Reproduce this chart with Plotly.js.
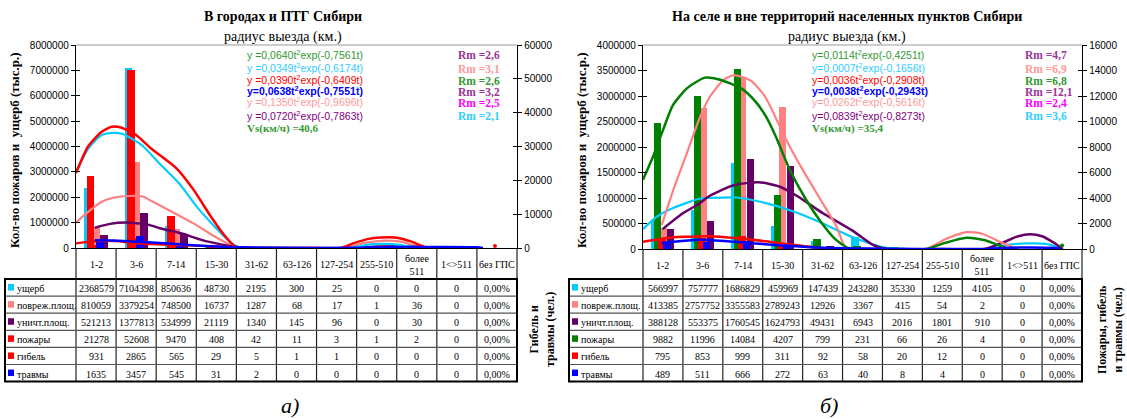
<!DOCTYPE html>
<html><head><meta charset="utf-8">
<script src="https://cdn.plot.ly/plotly-3.0.1.min.js"></script>
<style>body{margin:0;background:#fff}#c{width:1127px;height:419px}</style>
</head><body><div id="c"></div>
<script>
// ---------- DATA ----------
const categories = ['1-2','3-6','7-14','15-30','31-62','63-126','127-254','255-510','более<br>511','1&lt;&gt;511','без ГПС'];
const rowNamesA = ['ущерб','повреж.площ.','уничт.площ.','пожары','гибель','травмы'];
const rowNamesB = ['ущерб','повреж.площ.','уничт.площ.','пожары','гибель','травмы'];
const lastColText = '0,00%';

// panel a) cities
const A_damage  = [2368579,7104398,850636,48730,2195,300,25,0,0,0,0];
const A_damArea = [810059,3379254,748500,16737,1287,68,17,1,36,0,0];
const A_desArea = [521213,1377813,534999,21119,1340,145,96,0,30,0,0];
const A_fires   = [21278,52608,9470,408,42,11,3,1,2,0,0];
const A_deaths  = [931,2865,565,29,5,1,1,0,0,0,0];
const A_injured = [1635,3457,545,31,2,0,0,0,0,0,0];

// panel б) rural
const B_damage  = [566997,757777,1686829,459969,147439,243280,35330,1259,4105,0,0];
const B_damArea = [413385,2757752,3355583,2789243,12926,3367,415,54,2,0,0];
const B_desArea = [388128,553375,1760545,1624793,49431,6943,2016,1801,910,0,0];
const B_fires   = [9882,11996,14084,4207,799,231,66,26,4,0,0];
const B_deaths  = [795,853,999,311,92,58,20,12,0,0,0];
const B_injured = [489,511,666,272,63,40,8,4,0,0,0];

// fitted curves (x in category units, values in millions on left axis)
const A_redFit_t  = [-0.5,-0.2,0.14,0.39,0.64,1.0,1.35,1.6,2.0,2.43,2.88,3.2,3.45,3.7,4.5,5.5,6.1,6.45,6.8,7.1,7.45,7.85,8.2,8.5,9.0];
const A_redFit_v  = [2.95,4.0,4.58,4.78,4.74,4.45,3.95,3.65,3.15,2.3,1.2,0.5,0.08,0,0,0,0,0.2,0.36,0.41,0.41,0.26,0.04,0,0];
const A_cyanFit_t = [-0.5,-0.19,0.14,0.43,0.67,1.01,1.18,1.54,2.07,2.51,2.96,3.33,3.6,4.5,5.5,6.3,6.9,7.4,8.0,8.5];
const A_cyanFit_v = [3.0,3.93,4.45,4.54,4.49,4.19,4.0,3.4,2.55,1.63,0.84,0.25,0.02,0,0,0,0.15,0.15,0.02,0];
const A_salFit_t  = [-0.5,-0.19,0.14,0.43,0.84,1.18,1.36,1.89,2.43,2.96,3.41,3.7,4.5,5.5,6.2,6.7,7.2,7.6,8.1,8.4];
const A_salFit_v  = [1.0,1.43,1.82,1.98,2.05,2.02,1.87,1.43,0.97,0.45,0.08,0,0,0,0,0.2,0.29,0.25,0.03,0];
const A_purFit_t  = [-0.03,0.35,0.76,1.0,1.3,1.59,2.12,2.65,3.18,3.6,4.5,5.5,6.4,7.0,7.6,8.2,8.6];
const A_purFit_v  = [0.8,0.95,1.0,0.98,0.92,0.78,0.58,0.31,0.12,0.01,0,0,0,0.06,0.07,0.03,0];
const A_bluFit_t  = [-0.03,0.45,0.85,1.4,2.0,2.5,3.0,3.5,4.5,6.0,7.0,7.5,8.5,9.5,9.65];
const A_bluFit_v  = [0.31,0.3,0.26,0.22,0.16,0.1,0.06,0.03,0.01,0,0.02,0.04,0.04,0.03,0];
const A_red2Fit_t = [-0.5,0.02,0.5,1.0,1.7,2.5,3.4,4.0];
const A_red2Fit_v = [0.18,0.27,0.27,0.18,0.13,0.09,0.04,0];
const A_dot_t = [9.95], A_dot_v = [0.08];

const B_grnFit_t  = [-0.5,-0.25,0.0,0.25,0.6,1.05,1.43,1.96,2.31,2.58,2.83,3.18,3.56,3.94,4.31,4.64,5.0,6.0,6.6,7.07,7.6,8.07,8.6,8.9];
const B_grnFit_v  = [1.36,1.81,2.33,2.82,3.15,3.36,3.32,3.15,2.9,2.6,2.2,1.55,1.0,0.55,0.2,0.02,0,0,0,0.12,0.22,0.17,0.02,0];
const B_salFit_t  = [-0.03,0.26,0.6,0.93,1.18,1.5,1.77,2.2,2.55,2.9,3.15,3.46,3.9,4.35,4.56,4.8,6.0,6.6,7.1,7.6,8.0,8.5,8.9];
const B_salFit_v  = [0.47,1.16,1.88,2.59,2.99,3.3,3.41,3.3,3.0,2.45,2.05,1.61,1.03,0.44,0.05,0,0,0,0.2,0.33,0.3,0.12,0];
const B_purFit_t  = [-0.01,0.5,0.93,1.14,1.77,2.4,2.93,3.38,4.01,4.73,5.26,5.6,7.0,8.05,8.5,8.9,9.2,9.5,9.8,10.02];
const B_purFit_v  = [0.39,0.7,0.9,1.03,1.25,1.31,1.22,1.03,0.7,0.37,0.08,0,0,0,0.12,0.25,0.29,0.25,0.12,0];
const B_cyanFit_t = [-0.5,-0.16,0.24,0.93,1.14,1.86,2.58,3.29,4.01,4.73,5.44,5.8,7.0,8.1,8.6,9.1,9.6,10.0];
const B_cyanFit_v = [0.39,0.63,0.8,0.99,1.0,1.01,0.9,0.73,0.5,0.24,0.05,0,0,0,0.08,0.11,0.1,0];
const B_redFit_t  = [-0.5,0.25,0.6,1.15,1.87,2.58,3.29,4.0,4.5];
const B_redFit_v  = [0.14,0.23,0.24,0.25,0.21,0.15,0.08,0.02,0];
const B_bluFit_t  = [-0.03,0.54,0.98,1.8,2.8,3.9,5.0,6.5,8.0,8.5,9.2,9.8,10.0];
const B_bluFit_v  = [0.12,0.16,0.18,0.14,0.08,0.03,0.01,0,0,0.02,0.03,0.02,0];
const B_dot_t = [10.0], B_dot_v = [0.07];

const A_eq = ['y =0,0640t<sup>2</sup>exp(-0,7561t)','y =0,0349t<sup>2</sup>exp(-0,6174t)','y =0,0390t<sup>2</sup>exp(-0,6409t)','<b>y=0,0638t<sup>2</sup>exp(-0,7551t)</b>','y =0,1350t<sup>2</sup>exp(-0,9696t)','y =0,0720t<sup>2</sup>exp(-0,7863t)'];
const A_rm = ['Rm =2,6','Rm =3,1','Rm =2,6','Rm =3,2','Rm =2,5','Rm =2,1'];
const A_vs = 'Vs(км/ч) =40,6';
const B_eq = ['y=0,0114t<sup>2</sup>exp(-0,4251t)','y=0,0007t<sup>2</sup>exp(-0,1656t)','y=0,0036t<sup>2</sup>exp(-0,2908t)','<b>y=0,0038t<sup>2</sup>exp(-0,2943t)</b>','y=0,0262t<sup>2</sup>exp(-0,5616t)','y=0,0839t<sup>2</sup>exp(-0,8273t)'];
const B_rm = ['Rm =4,7','Rm =6,9','Rm =6,8','Rm =12,1','Rm =2,4','Rm =3,6'];
const B_vs = 'Vs(км/ч) =35,4';

// ---------- STYLE ----------
const W = 1127, H = 419;
const px = x => x / W, py = y => 1 - y / H;
const SERIF = 'Liberation Serif, Times New Roman, serif';
const SANS = 'Liberation Sans, Arial, sans-serif';
const C = {cyan:'#00ccff', sal:'#ff8080', pur:'#660066', red:'#ff0000', blue:'#0000ff', green:'#008000'};
const eqColors = ['#339933','#33ccff','#ff0000','#0000ff','#ff9999','#800080'];
const rmColors = ['#993399','#ff9999','#339933','#993399','#ff00ff','#33ccff'];
const idx = categories.map((_, i) => i);

const traces = [], shapes = [], annotations = [];
const text = (x, y, t, o = {}) => annotations.push({xref:'paper', yref:'paper', x:px(x), y:py(y), text:t, showarrow:false,
  xanchor:o.xa || 'center', yanchor:'middle', textangle:o.angle || 0,
  font:{family:o.fam || SERIF, size:o.size || 10, color:o.color || '#000'}});
const line = (x0, y0, x1, y1, w, c) => shapes.push({type:'line', xref:'paper', yref:'paper', x0:px(x0), y0:py(y0), x1:px(x1), y1:py(y1), line:{width:w, color:c}});

function panel(p) {
  const bar = (y, ya, off, color) => traces.push({type:'bar', x:idx, y, xaxis:p.xa, yaxis:ya, offset:off, width:p.bw,
    marker:{color, line:{width:0}}, hoverinfo:'skip'});
  bar(p.prim[0], p.y1, -0.29, C.cyan);
  bar(p.prim[1], p.y1, -0.097, C.sal);
  bar(p.prim[2], p.y1, 0.097, C.pur);
  bar(p.sec[0], p.y2, -0.23, p.secCol[0]);
  bar(p.sec[1], p.y2, -0.115, p.secCol[1]);
  bar(p.sec[2], p.y2, 0.0, p.secCol[2]);
  p.curves.forEach(c => traces.push({type:'scatter', mode:c.mode || 'lines', x:c.t, y:c.v, xaxis:p.xa, yaxis:p.y3,
    line:{color:c.color, width:c.w || 2.5, shape:'spline', smoothing:0.6}, marker:{color:c.color, size:4}, hoverinfo:'skip'}));
  p.tickAxes.forEach(ya => traces.push({type:'scatter', mode:'markers', x:[null], y:[null], xaxis:p.xa, yaxis:ya, hoverinfo:'skip'}));

  // plot top border
  line(p.x0, p.top, p.x1, p.top, 1, '#999');
  // table
  const cw = (p.x1 - p.x0) / 11, tTop = 279, rh = 17.1, tBot = tTop + 6 * rh;
  for (let i = 0; i <= 11; i++) line(p.x0 + i * cw, p.bot, p.x0 + i * cw, tBot, 1.2, '#222');
  for (let k = 1; k < 6; k++) line(p.tl, tTop + k * rh, p.x1, tTop + k * rh, 1.2, '#555');
  shapes.push({type:'rect', xref:'paper', yref:'paper', x0:px(p.tl), x1:px(p.x1), y0:py(tTop), y1:py(tBot), line:{width:2, color:'#000'}});
  categories.forEach((c, i) => text(p.x0 + (i + 0.5) * cw, (p.bot + tTop) / 2 + 1, c, {size:10}));
  p.rows.forEach((r, k) => {
    const yc = tTop + (k + 0.5) * rh;
    shapes.push({type:'rect', xref:'paper', yref:'paper', x0:px(p.tl + 3), x1:px(p.tl + 9), y0:py(yc - 3.5), y1:py(yc + 3), fillcolor:p.sq[k], line:{width:0}});
    text(p.tl + 10, yc + 1, p.names[k], {xa:'left', size:10});
    r.forEach((v, i) => text(p.x0 + (i + 0.5) * cw, yc + 1, i === 10 ? lastColText : String(v), {size:10}));
  });
  // titles
  text(p.cx, 17, '<b>' + p.title + '</b>', {size:14});
  text(p.cx, 37, 'радиус выезда (км.)', {size:14});
  text(p.ytx, 150, '<b>Кол-во пожаров и  ущерб (тыс.р.)</b>', {angle:-90, size:13});
  text(p.y2tx, 330, '<b>' + p.y2title + '</b>', {angle:-90, size:12});
  text(p.lx, 405, '<i>' + p.letter + '</i>', {size:22});
  // equations
  const rowsY = [54, 67.5, 80, 90.5, 102, 115.5];
  p.eq.forEach((e, k) => text(p.eqx, rowsY[k], e, {xa:'left', fam:SANS, size:10.5, color:eqColors[k]}));
  text(p.eqx, 128.5, '<b>' + p.vs + '</b>', {xa:'left', size:11, color:'#339933'});
  p.rm.forEach((e, k) => text(p.rmx, rowsY[k] + 1, '<b>' + e + '</b>', {xa:'left', size:11.5, color:rmColors[k]}));
}

panel({xa:'x', y1:'y', y2:'y2', y3:'y3', tickAxes:['y4','y5'], x0:76, x1:517, top:45, bot:248, tl:5, bw:0.19,
  prim:[A_damage, A_damArea, A_desArea], sec:[A_fires, A_deaths, A_injured], secCol:[C.red, C.red, C.blue],
  curves:[
    {t:A_salFit_t, v:A_salFit_v, color:C.sal, w:2.2},
    {t:A_purFit_t, v:A_purFit_v, color:C.pur, w:2.5},
    {t:A_cyanFit_t, v:A_cyanFit_v, color:C.cyan, w:2.2},
    {t:A_redFit_t, v:A_redFit_v, color:C.red, w:2.5},
    {t:A_red2Fit_t, v:A_red2Fit_v, color:C.red, w:2.2},
    {t:A_bluFit_t, v:A_bluFit_v, color:C.blue, w:2.5},
    {t:A_dot_t, v:A_dot_v, color:C.red, mode:'markers'}],
  rows:[A_damage, A_damArea, A_desArea, A_fires, A_deaths, A_injured], names:rowNamesA,
  sq:[C.cyan, C.sal, C.pur, C.red, C.red, C.blue],
  cx:283, title:'В городах и ПТГ Сибири', ytx:14, y2tx:542, y2title:'Гибель и<br>травмы (чел.)', lx:290, letter:'а)',
  eq:A_eq, vs:A_vs, rm:A_rm, eqx:245, rmx:456});

panel({xa:'x2', y1:'y6', y2:'y7', y3:'y8', tickAxes:['y9','y10'], x0:643, x1:1082, top:45, bot:249, tl:569, bw:0.19,
  prim:[B_damage, B_damArea, B_desArea], sec:[B_fires, B_deaths, B_injured], secCol:[C.green, C.red, C.blue],
  curves:[
    {t:B_cyanFit_t, v:B_cyanFit_v, color:C.cyan, w:2.2},
    {t:B_purFit_t, v:B_purFit_v, color:C.pur, w:2.5},
    {t:B_salFit_t, v:B_salFit_v, color:C.sal, w:2.2},
    {t:B_grnFit_t, v:B_grnFit_v, color:C.green, w:2.5},
    {t:B_redFit_t, v:B_redFit_v, color:C.red, w:2.5},
    {t:B_bluFit_t, v:B_bluFit_v, color:C.blue, w:2.5},
    {t:B_dot_t, v:B_dot_v, color:C.green, mode:'markers'}],
  rows:[B_damage, B_damArea, B_desArea, B_fires, B_deaths, B_injured], names:rowNamesB,
  sq:[C.cyan, C.sal, C.pur, C.green, C.red, C.blue],
  cx:847, title:'На селе и вне территорий населенных пунктов Сибири', ytx:581, y2tx:1110, y2title:'Пожары, гибель<br>и травмы (чел.)', lx:829, letter:'б)',
  eq:B_eq, vs:B_vs, rm:B_rm, eqx:810, rmx:1023});

// ---------- AXES ----------
const tickFont = {family:SANS, size:10, color:'#000'};
const yBase = (dom, range, dtick, anchor) => ({domain:dom, range, dtick, tick0:0, tickformat:'d', ticks:'outside', ticklen:4,
  tickcolor:'#000', showline:true, linecolor:'#000', linewidth:1.2, showgrid:false, zeroline:false, tickfont:tickFont, anchor, fixedrange:true});
const yIn = (range, dtick, anchor, ov, side) => ({range, dtick, tick0:0, ticks:'inside', ticklen:4, tickcolor:'#000', showticklabels:false,
  showline:false, showgrid:false, zeroline:false, anchor, overlaying:ov, side, fixedrange:true});
const xBase = (dom, anchor) => ({domain:dom, range:[-0.5, 10.5], showticklabels:false, ticks:'', showgrid:false, zeroline:false,
  showline:true, linecolor:'#000', linewidth:1.2, anchor, fixedrange:true});
const domA = [py(248), py(45)], domB = [py(249), py(45)];

const layout = {
  width:W, height:H, margin:{l:0, r:0, t:0, b:0}, paper_bgcolor:'#fff', plot_bgcolor:'rgba(0,0,0,0)',
  showlegend:false, barmode:'overlay', bargap:0,
  xaxis:xBase([px(76), px(517)], 'y'),
  xaxis2:xBase([px(643), px(1082)], 'y6'),
  yaxis:yBase(domA, [0, 8000000], 1000000, 'x'),
  yaxis2:Object.assign(yBase(domA, [0, 60000], 10000, 'x'), {overlaying:'y', side:'right'}),
  yaxis3:{range:[0, 8], overlaying:'y', anchor:'x', visible:false, fixedrange:true},
  yaxis4:yIn([0, 8000000], 1000000, 'x', 'y', 'left'),
  yaxis5:yIn([0, 60000], 10000, 'x', 'y', 'right'),
  yaxis6:yBase(domB, [0, 4000000], 500000, 'x2'),
  yaxis7:Object.assign(yBase(domB, [0, 16000], 2000, 'x2'), {overlaying:'y6', side:'right'}),
  yaxis8:{range:[0, 4], overlaying:'y6', anchor:'x2', visible:false, fixedrange:true},
  yaxis9:yIn([0, 4000000], 500000, 'x2', 'y6', 'left'),
  yaxis10:yIn([0, 16000], 2000, 'x2', 'y6', 'right'),
  shapes, annotations
};
Plotly.newPlot('c', traces, layout, {staticPlot:true, displayModeBar:false});
</script></body></html>
